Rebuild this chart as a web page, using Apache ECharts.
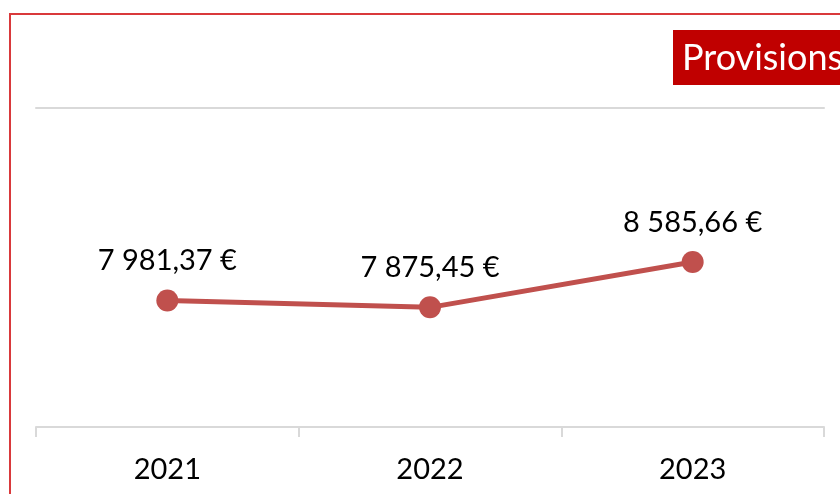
<!DOCTYPE html>
<html>
<head>
<meta charset="utf-8">
<script src="https://cdn.jsdelivr.net/npm/echarts@6/dist/echarts.min.js"></script>
<style>
  html, body { margin: 0; padding: 0; background: #fff; }
  #main { width: 840px; height: 494px; }
</style>
</head>
<body>
<div id="main"></div>
<script>
// données
const years = ['2021', '2022', '2023']
const provisions = [7981.37, 7875.45, 8585.66]

const fmtEuro = v => {
  const parts = v.toFixed(2).split('.')
  return parts[0].replace(/\B(?=(\d{3})+(?!\d))/g, ' ') + ',' + parts[1] + ' €'
}

const chart = echarts.init(document.getElementById('main'))

const option = {
  animation: false,
  textStyle: { fontFamily: 'Lato, "Open Sans", sans-serif' },
  title: {
    text: 'Provisions',
    left: 673,
    top: 30,
    backgroundColor: '#c00000',
    padding: [10, 8, 9, 9],
    textStyle: { color: '#fff', fontSize: 36, fontWeight: 'normal', fontFamily: 'Lato, sans-serif' }
  },
  graphic: [{
    type: 'rect',
    shape: { x: 10, y: 14, width: 900, height: 600 },
    style: { fill: 'none', stroke: '#d9393b', lineWidth: 2 },
    silent: true
  }],
  grid: { left: 36, right: 16, top: 108, bottom: 67 },
  xAxis: [{
    type: 'category',
    data: years,
    boundaryGap: true,
    axisLine: { lineStyle: { color: '#d9d9d9', width: 2 } },
    axisTick: { show: true, length: 10, lineStyle: { color: '#d9d9d9', width: 2 } },
    axisLabel: { color: '#000', fontSize: 29, margin: 28 }
  }, {
    type: 'category',
    data: years,
    position: 'top',
    axisLine: { lineStyle: { color: '#d9d9d9', width: 2 } },
    axisTick: { show: false },
    axisLabel: { show: false }
  }],
  yAxis: {
    type: 'value',
    min: 6000,
    max: 11000,
    show: false,
    splitLine: { show: false }
  },
  series: [{
    type: 'line',
    data: provisions,
    symbol: 'circle',
    symbolSize: 22,
    itemStyle: { color: '#c0504d' },
    lineStyle: { color: '#c0504d', width: 5 },
    label: {
      show: true,
      position: 'top',
      distance: 14,
      color: '#000',
      fontSize: 29,
      formatter: p => fmtEuro(p.value)
    }
  }]
}

chart.setOption(option)
</script>
</body>
</html>
